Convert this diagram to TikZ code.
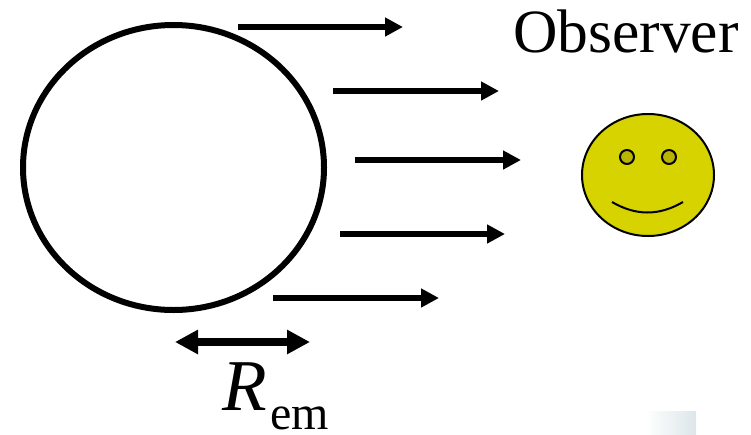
\documentclass[tikz,border=0pt]{standalone}
\usepackage{fontspec}
\setmainfont{Liberation Serif}
\usetikzlibrary{arrows.meta}
\definecolor{facey}{HTML}{D6D300}
\definecolor{eyey}{HTML}{BAB400}
\definecolor{patchc}{HTML}{DDE6EA}
\tikzset{
  ray/.style={line width=6pt,-{Triangle[length=18pt,width=18pt]}},
  span/.style={line width=8pt,{Triangle[length=23pt,width=23pt]}-{Triangle[length=23pt,width=23pt]}},
  lbl/.style={inner sep=0pt,anchor=base west},
  faceline/.style={draw=black,line width=2pt}
}
\begin{document}
\begin{tikzpicture}[x=1pt,y=-1pt]
\useasboundingbox (0,0) rectangle (751,434);
\fill[left color=white,right color=patchc] (645,411) rectangle (696,434);
\draw[line width=6pt] (173.5,167.5) ellipse [x radius=150.5,y radius=142.5];
\coordinate (a1s) at (238,27);  \coordinate (a1e) at (403,27);
\coordinate (a2s) at (333,91);  \coordinate (a2e) at (499,91);
\coordinate (a3s) at (355,160); \coordinate (a3e) at (521,160);
\coordinate (a4s) at (340,234); \coordinate (a4e) at (505,234);
\coordinate (a5s) at (273,298); \coordinate (a5e) at (439,298);
\draw[ray] (a1s) -- (a1e);
\draw[ray] (a2s) -- (a2e);
\draw[ray] (a3s) -- (a3e);
\draw[ray] (a4s) -- (a4e);
\draw[ray] (a5s) -- (a5e);
\coordinate (rl) at (175,342); \coordinate (rr) at (310,342);
\draw[span] (rl) -- (rr);
\draw[faceline,fill=facey] (648,175) ellipse [x radius=66,y radius=61];
\draw[faceline,fill=eyey] (627,157) circle [radius=7];
\draw[faceline,fill=eyey] (669,157) circle [radius=7];
\draw[faceline] (612,202) .. controls (636,216) and (659,216) .. (683,202);
\node[lbl,font=\fontsize{61.5}{61.5}\selectfont] (obs) at (513,52) {Observer};
\node[lbl,font=\fontsize{73}{73}\selectfont\itshape] (rsym) at (222,410) {R};
\node[lbl,font=\fontsize{48}{48}\selectfont] (rsub) at (270,429.5) {em};
\end{tikzpicture}
\end{document}
